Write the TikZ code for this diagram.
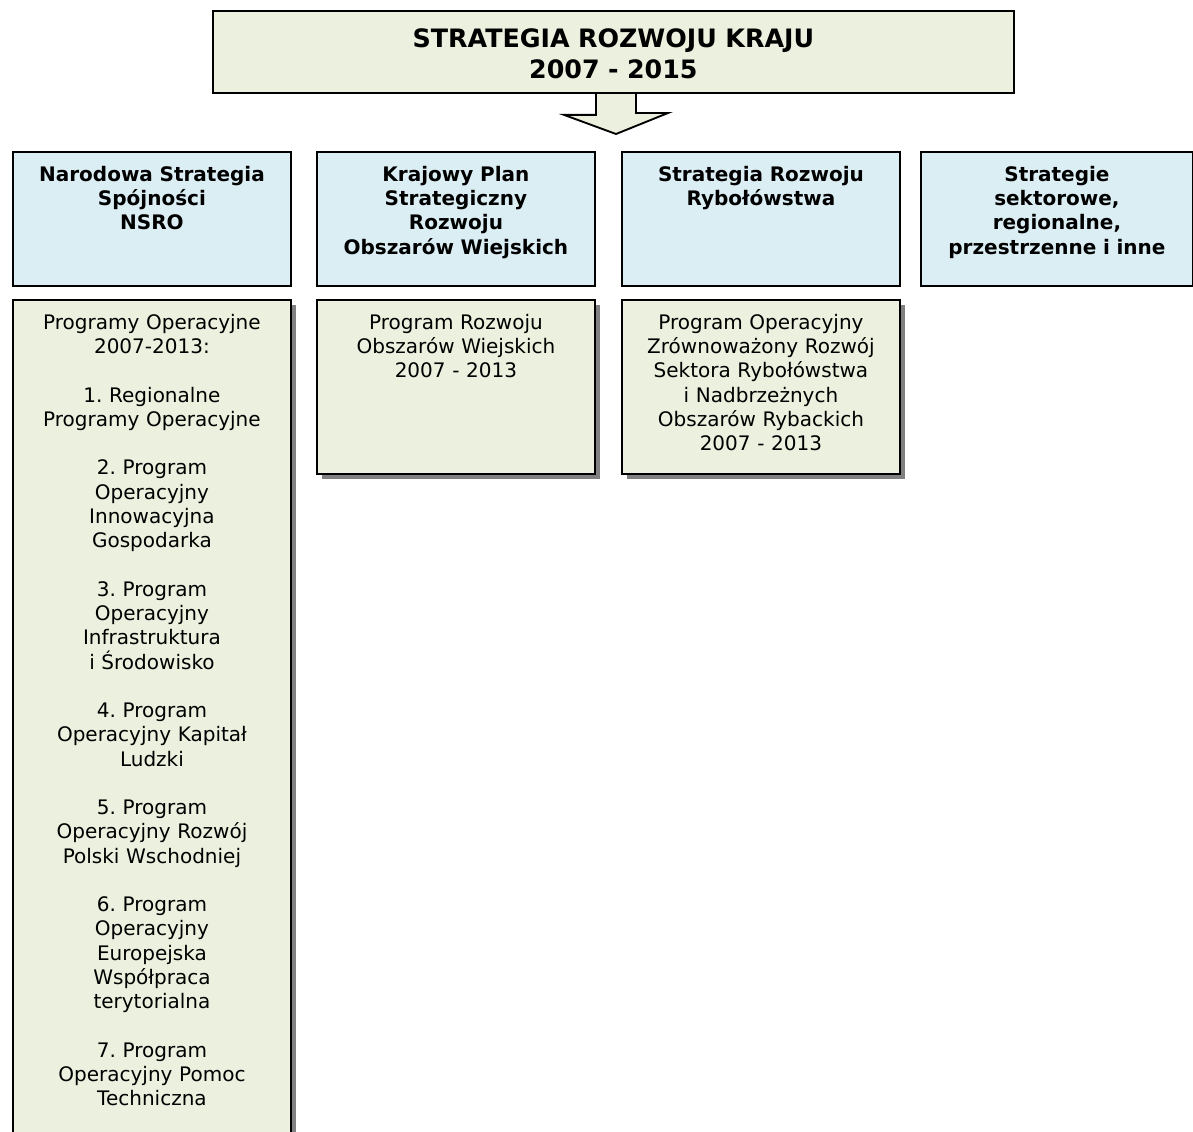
\documentclass[tikz,border=0pt]{standalone}
\usepackage{fontspec}
\setmainfont{DejaVu Sans}
\frenchspacing
\usepackage{tikz}
\usetikzlibrary{calc}
\usetikzlibrary{backgrounds}
\usetikzlibrary{shadows}
\definecolor{zielony}{HTML}{EBF1DE}
\definecolor{niebieski}{HTML}{DBEEF4}
\tikzset{ramka/.style={draw=black, line width=1.4pt, align=center, anchor=north west, inner xsep=4pt, inner ysep=4pt, text height=18pt, font=\fontsize{15}{18.2}\selectfont}}
\tikzset{naglowek/.style={ramka, fill=niebieski, font=\fontsize{15}{18.2}\selectfont\bfseries, text width=200.5pt, text depth=74.5pt}}
\tikzset{program/.style={ramka, fill=zielony, text width=200.5pt, drop shadow={shadow xshift=3.5pt, shadow yshift=-3.5pt, fill=black!50, opacity=1}}}

\begin{document}
\begin{tikzpicture}[x=0.75pt, y=-0.75pt]
		\useasboundingbox (0,0) rectangle (1193,1132);
		\node[draw=black, line width=1.4pt, fill=zielony, anchor=north west, align=center, text width=594pt, minimum height=61.5pt, font=\fontsize{19}{23.3}\selectfont\bfseries] (SRK) at (212,10) {\rule{0pt}{17pt}STRATEGIA ROZWOJU KRAJU\\2007 - 2015};
		\coordinate (grot) at (616,134);
		\begin{scope}[on background layer]
			\draw[line width=1.4pt, fill=zielony, line join=miter] ($(SRK.south -| grot)+(-20,0)$) -- ++(0,21) -- ++(-32,0) -- (grot) -- ++(52,-21) -- ++(-32,0) -- ++(0,-21);
		\end{scope}
		\node[naglowek] (NSS) at (12,151) {Narodowa Strategia\\Spójności\\NSRO};
		\node[naglowek] (KPS) at (316,151) {Krajowy Plan\\Strategiczny\\Rozwoju\\Obszarów Wiejskich};
		\node[naglowek] (SRR) at (621,151) {Strategia Rozwoju\\Rybołówstwa};
		\node[naglowek, text width=196pt] (SSR) at (920,151) {Strategie\\sektorowe,\\regionalne,\\przestrzenne i inne};
		\node[program, text depth=612pt] (PO) at (12,299) {Programy Operacyjne\\2007-2013:\\[18.2pt]1. Regionalne\\Programy Operacyjne\\[18.2pt]2. Program\\Operacyjny\\Innowacyjna\\Gospodarka\\[18.2pt]3. Program\\Operacyjny\\Infrastruktura\\i Środowisko\\[18.2pt]4. Program\\Operacyjny Kapitał\\Ludzki\\[18.2pt]5. Program\\Operacyjny Rozwój\\Polski Wschodniej\\[18.2pt]6. Program\\Operacyjny\\Europejska\\Współpraca\\terytorialna\\[18.2pt]7. Program\\Operacyjny Pomoc\\Techniczna};
		\node[program, text depth=104.5pt] (PROW) at (316,299) {Program Rozwoju\\Obszarów Wiejskich\\2007 - 2013};
		\node[program, text depth=104.5pt] (POR) at (621,299) {Program Operacyjny\\Zrównoważony Rozwój\\Sektora Rybołówstwa\\i Nadbrzeżnych\\Obszarów Rybackich\\2007 - 2013};
	\end{tikzpicture}
\end{document}
